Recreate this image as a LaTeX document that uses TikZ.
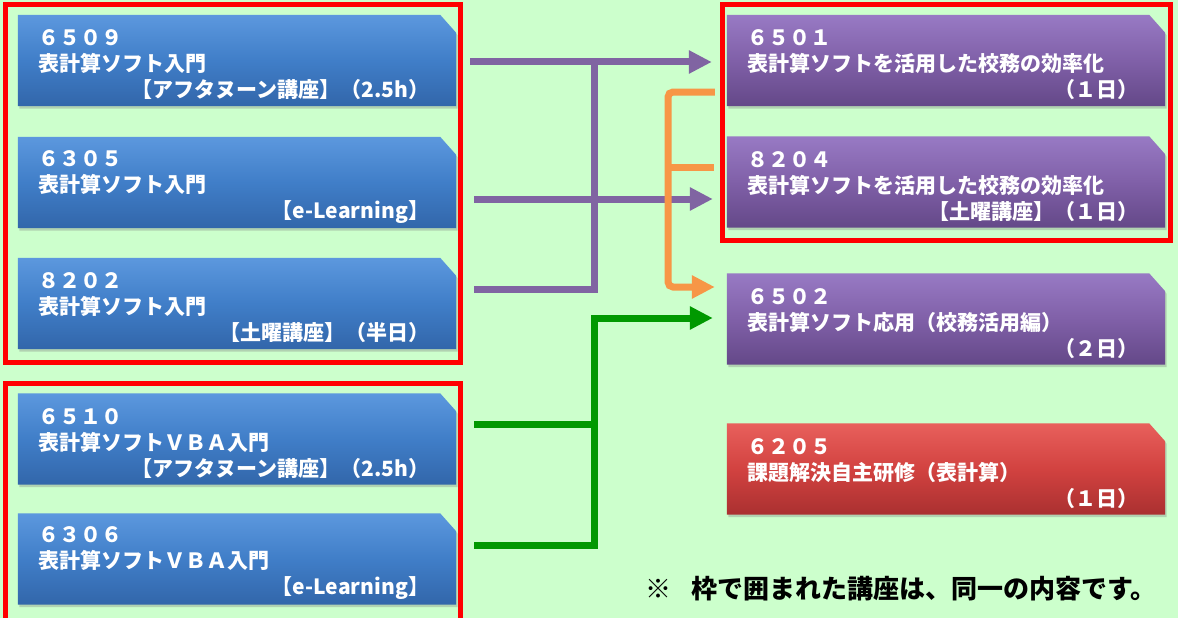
\documentclass[tikz,border=0pt]{standalone}
\usepackage{fontspec}
\setmainfont{Noto Sans CJK JP}
\usetikzlibrary{arrows.meta,calc,shadows,backgrounds}

\definecolor{bggreen}{RGB}{204,255,204}
\definecolor{frred}{RGB}{255,0,0}
\definecolor{blueT}{RGB}{92,152,222}
\definecolor{blueM}{RGB}{64,126,200}
\definecolor{blueB}{RGB}{50,102,170}
\definecolor{purpT}{RGB}{152,122,196}
\definecolor{purpM}{RGB}{128,96,168}
\definecolor{purpB}{RGB}{100,72,136}
\definecolor{redT}{RGB}{232,96,92}
\definecolor{redM}{RGB}{210,66,64}
\definecolor{redB}{RGB}{170,48,48}
\definecolor{lnpurp}{RGB}{128,100,162}
\definecolor{lnorange}{RGB}{247,150,70}
\definecolor{lngreen}{RGB}{0,153,0}

% right-aligned last line of a course box
\newcommand{\rline}[1]{\hbox to\hsize{\hfill#1\hspace{7pt}}}

\begin{document}
\begin{tikzpicture}[x=1pt,y=-1pt,
    course/.style={rectangle, minimum width=438pt, minimum height=91pt,
      inner xsep=20pt, inner ysep=0pt, text width=398pt, align=left, text=white,
      font=\fontsize{21pt}{26pt}\selectfont\bfseries,
      execute at begin node={\rule{0pt}{25pt}}},
    frame/.style={draw=frred, line width=5pt},
    pline/.style={draw=lnpurp, line width=7pt},
    parrow/.style={pline, -{Triangle[length=23pt,width=22pt]}},
    oline/.style={draw=lnorange, line width=7pt},
    oarrow/.style={oline, -{Triangle[length=23pt,width=22pt]}},
    gline/.style={draw=lngreen, line width=7pt},
    garrow/.style={gline, -{Triangle[length=23pt,width=22pt]}},
    note/.style={inner sep=0pt, font=\fontsize{26pt}{30pt}\selectfont\bfseries}]
  \useasboundingbox (0,0) rectangle (1178,618);
  \clip (0,0) rectangle (1178,618);

  % left column
  \node[course] (b6509) at (237,60.5) {６５０９\\表計算ソフト入門\\\rline{【アフタヌーン講座】（2.5h）}};
  \node[course] (b6305) at (237,182.5) {６３０５\\表計算ソフト入門\\\rline{【e-Learning】}};
  \node[course] (b8202) at (237,303.5) {８２０２\\表計算ソフト入門\\\rline{【土曜講座】（半日）}};
  \node[course] (b6510) at (237,439) {６５１０\\表計算ソフトＶＢＡ入門\\\rline{【アフタヌーン講座】（2.5h）}};
  \node[course] (b6306) at (237,559) {６３０６\\表計算ソフトＶＢＡ入門\\\rline{【e-Learning】}};

  % right column
  \node[course] (p6501) at (946,60.5) {６５０１\\表計算ソフトを活用した校務の効率化\\\rline{（１日）}};
  \node[course] (p8204) at (946,182) {８２０４\\表計算ソフトを活用した校務の効率化\\\rline{【土曜講座】（１日）}};
  \node[course] (p6502) at (946,319) {６５０２\\表計算ソフト応用（校務活用編）\\\rline{（２日）}};
  \node[course] (r6205) at (946,469) {６２０５\\課題解決自主研修（表計算）\\\rline{（１日）}};

  \node[note, anchor=west] (note) at (645,589) {※\hspace{20pt}枠で囲まれた講座は、同一の内容です。};

  % box bodies with the cut corner, behind the texts
  \begin{scope}[on background layer]
    \fill[bggreen] (0,0) rectangle (1178,618);
    \foreach \n/\col in {b6509/blue, b6305/blue, b8202/blue, b6510/blue, b6306/blue,
                         p6501/purp, p8204/purp, p6502/purp, r6205/red}
      \shade[top color=\col T, bottom color=\col B, middle color=\col M,
             drop shadow={opacity=.35, shadow xshift=1.5pt, shadow yshift=-2.5pt}]
        (\n.south west) -- (\n.south east) -- ([yshift=-18pt]\n.north east)
        -- ([xshift=-16pt]\n.north east) -- (\n.north west) -- cycle;
  \end{scope}

  % groups of the same content
  \draw[frame] (5.5,4.5) rectangle (460.5,362.5);
  \draw[frame] (5.5,383) rectangle (460.5,640);
  \draw[frame] (722.5,4.5) rectangle (1170.5,240.5);

  % purple paths
  \coordinate (ptop) at (594,62);
  \draw[parrow] ($(b6509.east)+(14,1.5)$) -- ($(p6501.west)+(-15,1.5)$);
  \draw[parrow] ($(b6305.east)+(18,16.5)$) -- ($(b6305.east -| p8204.west)+(-14,16.5)$);
  \draw[pline] ($(b8202.east)+(18,-14.5)$) -| (ptop);

  % orange paths
  \coordinate (otop) at (668,92);
  \draw[oarrow, rounded corners=5pt] ($(p6501.west)+(-12,31.5)$) -- (otop) |- ($(p6502.west)+(-12,-32)$);
  \draw[oline] ($(p8204.west)+(-13,-15)$) -- +(-45,0);

  % green paths
  \coordinate (gtop) at (594,318);
  \draw[garrow] ($(b6306.east)+(18,-14)$) -| (gtop) -- ($(p6502.west)+(-14,-1)$);
  \draw[gline] ($(b6510.east)+(18,-15)$) -- +(120,0);
\end{tikzpicture}
\end{document}
